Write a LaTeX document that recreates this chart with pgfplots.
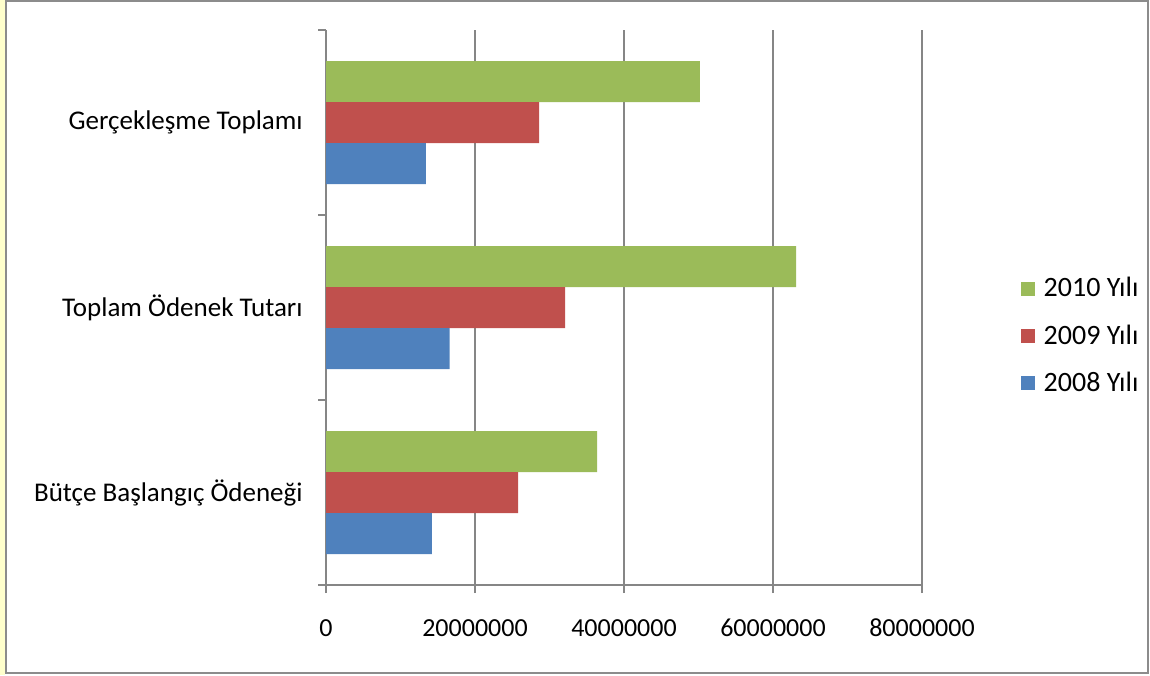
\documentclass[border=0pt]{standalone}
\usepackage{fontspec}
\setmainfont{Carlito}
\usepackage{pgfplots}
\pgfplotsset{compat=1.18}
\definecolor{g10}{HTML}{9BBB59}
\definecolor{r09}{HTML}{C0504D}
\definecolor{b08}{HTML}{4F81BD}
\definecolor{gridc}{RGB}{134,134,134}
\definecolor{frame}{RGB}{140,140,140}
\definecolor{ylw}{RGB}{255,255,204}
\begin{document}
\begin{tikzpicture}
\useasboundingbox (0,0) rectangle (575pt,337.5pt);
\fill[ylw] (0,0) rectangle (2.5pt,337.5pt);
\draw[frame, line width=1pt] (3pt,1.2pt) rectangle (574pt,337pt);
\begin{axis}[
  at={(163pt,45pt)}, anchor=south west,
  scale only axis, width=298pt, height=277.5pt,
  xbar, bar width=20.5pt,
  xmin=0, xmax=80000000, ymin=-0.5, ymax=2.5,
  axis x line*=bottom, axis y line*=left,
  axis line style={-, draw=gridc, line width=0.6pt},
  xtick={0,20000000,40000000,60000000,80000000},
  xticklabels={0,20000000,40000000,60000000,80000000},
  scaled x ticks=false,
  ytick={0,1,2},
  yticklabels={Bütçe Başlangıç Ödeneği, Toplam Ödenek Tutarı, Gerçekleşme Toplamı},
  minor ytick={-0.5,0.5,1.5,2.5},
  tick align=outside,
  major tick length=4pt, minor tick length=4pt,
  every major y tick/.append style={draw=none},
  every tick/.append style={gridc, line width=0.6pt},
  every minor tick/.append style={gridc, line width=0.6pt},
  xmajorgrids, major grid style={gridc, line width=0.6pt},
  xticklabel style={font=\fontsize{13}{15}\selectfont, anchor=center, yshift=-17.5pt},
  yticklabel style={font=\fontsize{13.5}{16}\selectfont, anchor=east, inner sep=0pt, xshift=-7.5pt},
  legend style={at={(1.165,0.4486)}, anchor=west, draw=none, fill=none,
    font=\fontsize{14}{17}\selectfont, row sep=8.5pt, inner sep=0pt,
    nodes={inner xsep=4.5pt}},
  legend cell align=left,
  legend image code/.code={\fill[#1] (0pt,-3.5pt) rectangle (7pt,3.5pt);},
]
\addplot[fill=g10, draw=none, bar shift=20.5pt] coordinates {(36400000,0) (63100000,1) (50200000,2)};
\addplot[fill=r09, draw=none, bar shift=0pt] coordinates {(25800000,0) (32100000,1) (28600000,2)};
\addplot[fill=b08, draw=none, bar shift=-20.5pt] coordinates {(14200000,0) (16600000,1) (13400000,2)};
\legend{2010 Yılı, 2009 Yılı, 2008 Yılı}
\end{axis}
\end{tikzpicture}
\end{document}
